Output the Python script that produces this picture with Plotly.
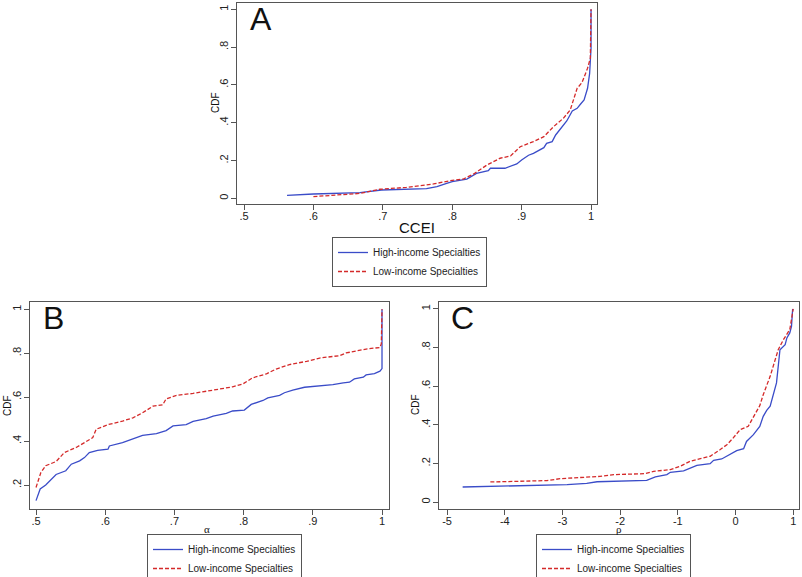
import plotly.graph_objects as go

# ---------------- data ----------------
# Panel A: CCEI
a_high_x = [0.562, 0.600, 0.667, 0.698, 0.763, 0.778, 0.792, 0.800, 0.821, 0.835, 0.852, 0.855, 0.876,
            0.886, 0.893, 0.900, 0.910, 0.917, 0.932, 0.936, 0.944, 0.949, 0.956, 0.965, 0.973, 0.980,
            0.985, 0.990, 0.995, 0.998, 1.000, 1.000]
a_high_y = [0.016, 0.023, 0.030, 0.044, 0.051, 0.062, 0.079, 0.088, 0.102, 0.132, 0.146, 0.159, 0.159,
            0.175, 0.182, 0.203, 0.228, 0.238, 0.268, 0.291, 0.300, 0.335, 0.370, 0.409, 0.462, 0.476,
            0.499, 0.520, 0.582, 0.661, 0.794, 1.000]
a_low_x = [0.600, 0.667, 0.696, 0.734, 0.773, 0.797, 0.816, 0.831, 0.850, 0.869, 0.884, 0.898, 0.917,
           0.932, 0.946, 0.960, 0.970, 0.980, 0.987, 0.995, 0.999, 1.000]
a_low_y = [0.009, 0.026, 0.048, 0.058, 0.076, 0.093, 0.102, 0.129, 0.176, 0.212, 0.224, 0.273, 0.300,
           0.326, 0.379, 0.423, 0.467, 0.582, 0.612, 0.688, 0.741, 1.000]

# Panel B: alpha
b_high_x = [0.500, 0.506, 0.514, 0.522, 0.529, 0.543, 0.551, 0.563, 0.570, 0.577, 0.589, 0.604, 0.606,
            0.625, 0.640, 0.654, 0.674, 0.688, 0.698, 0.717, 0.727, 0.746, 0.756, 0.775, 0.784, 0.801,
            0.811, 0.828, 0.835, 0.852, 0.859, 0.871, 0.888, 0.910, 0.929, 0.944, 0.953, 0.960, 0.973,
            0.977, 0.989, 0.997, 1.000, 1.000]
b_high_y = [0.129, 0.182, 0.200, 0.227, 0.248, 0.265, 0.295, 0.310, 0.325, 0.348, 0.358, 0.363, 0.378,
            0.393, 0.411, 0.426, 0.434, 0.448, 0.469, 0.475, 0.490, 0.502, 0.514, 0.526, 0.537, 0.541,
            0.567, 0.585, 0.597, 0.608, 0.620, 0.632, 0.645, 0.650, 0.657, 0.665, 0.668, 0.683, 0.691,
            0.701, 0.707, 0.718, 0.730, 1.000]
b_low_x = [0.500, 0.502, 0.507, 0.514, 0.529, 0.541, 0.558, 0.570, 0.582, 0.587, 0.604, 0.625, 0.640,
           0.654, 0.669, 0.683, 0.688, 0.703, 0.727, 0.756, 0.784, 0.799, 0.813, 0.833, 0.847, 0.866,
           0.891, 0.910, 0.939, 0.948, 0.968, 0.977, 0.997, 0.999, 1.000]
b_low_y = [0.189, 0.212, 0.257, 0.288, 0.307, 0.348, 0.371, 0.393, 0.416, 0.454, 0.475, 0.491, 0.506,
           0.529, 0.559, 0.565, 0.592, 0.608, 0.617, 0.632, 0.647, 0.660, 0.688, 0.706, 0.728, 0.748,
           0.763, 0.778, 0.789, 0.801, 0.813, 0.819, 0.826, 0.843, 1.000]

# Panel C: rho
c_high_x = [-4.73, -2.92, -2.58, -2.40, -1.54, -1.39, -1.19, -1.13, -0.90, -0.79, -0.67, -0.44, -0.38,
            -0.24, -0.10, 0.02, 0.14, 0.19, 0.31, 0.42, 0.48, 0.54, 0.60, 0.65, 0.71, 0.77, 0.86, 0.89,
            0.94, 0.97, 0.99]
c_high_y = [0.078, 0.090, 0.097, 0.105, 0.112, 0.130, 0.142, 0.154, 0.161, 0.173, 0.190, 0.199, 0.216,
            0.223, 0.244, 0.266, 0.276, 0.314, 0.349, 0.392, 0.444, 0.475, 0.496, 0.556, 0.617, 0.789,
            0.815, 0.850, 0.876, 0.910, 1.000]
c_low_x = [-4.25, -3.27, -3.04, -2.35, -2.11, -1.57, -1.42, -1.13, -0.96, -0.79, -0.61, -0.44, -0.27,
           -0.15, -0.04, 0.08, 0.22, 0.34, 0.42, 0.48, 0.60, 0.74, 0.83, 0.94, 1.00]
c_low_y = [0.104, 0.111, 0.121, 0.133, 0.142, 0.147, 0.159, 0.168, 0.185, 0.211, 0.225, 0.237, 0.271,
           0.297, 0.332, 0.375, 0.392, 0.461, 0.499, 0.556, 0.651, 0.789, 0.841, 0.893, 1.000]

series_names = ["High-income Specialties", "Low-income Specialties"]
a_xticks = [0.5, 0.6, 0.7, 0.8, 0.9, 1.0]
a_xtext = [".5", ".6", ".7", ".8", ".9", "1"]
a_yticks = [0, 0.2, 0.4, 0.6, 0.8, 1.0]
a_ytext = ["0", ".2", ".4", ".6", ".8", "1"]
b_xticks = [0.5, 0.6, 0.7, 0.8, 0.9, 1.0]
b_xtext = [".5", ".6", ".7", ".8", ".9", "1"]
b_yticks = [0.2, 0.4, 0.6, 0.8, 1.0]
b_ytext = [".2", ".4", ".6", ".8", "1"]
c_xticks = [-5, -4, -3, -2, -1, 0, 1]
c_xtext = ["-5", "-4", "-3", "-2", "-1", "0", "1"]
c_yticks = [0, 0.2, 0.4, 0.6, 0.8, 1.0]
c_ytext = ["0", ".2", ".4", ".6", ".8", "1"]

# ---------------- styling ----------------
W, H = 802, 577
BLUE = "#3a4cc8"
RED = "#d42a2a"
AXC = "#555555"
FONT = "Liberation Sans, Arial, sans-serif"

def px(x):
    return x / W

def py(y):
    return 1 - y / H

fig = go.Figure()

panels = [
    ("", a_high_x, a_high_y, a_low_x, a_low_y, "legend"),
    ("2", b_high_x, b_high_y, b_low_x, b_low_y, "legend2"),
    ("3", c_high_x, c_high_y, c_low_x, c_low_y, "legend3"),
]
for suf, hx, hy, lx, ly, leg in panels:
    fig.add_trace(go.Scatter(x=hx, y=hy, mode="lines", name=series_names[0],
                             line=dict(color=BLUE, width=1.3),
                             xaxis="x" + suf, yaxis="y" + suf, legend=leg))
    fig.add_trace(go.Scatter(x=lx, y=ly, mode="lines", name=series_names[1],
                             line=dict(color=RED, width=1.3, dash="4px,2px"),
                             xaxis="x" + suf, yaxis="y" + suf, legend=leg))

def xax(domain, rng, tv, tt, anchor):
    return dict(domain=domain, range=rng, tickvals=tv, ticktext=tt, anchor=anchor,
                automargin=False,
                showline=True, mirror=True, linecolor=AXC, linewidth=1,
                ticks="outside", ticklen=5, tickcolor=AXC, tickwidth=1,
                ticklabelstandoff=-3,
                showgrid=False, zeroline=False,
                tickfont=dict(family=FONT, size=11, color="#222"))

def yax(domain, rng, tv, tt, anchor):
    d = xax(domain, rng, tv, tt, anchor)
    d["tickangle"] = -90
    d["ticklabelstandoff"] = -1
    return d

layout = dict(
    width=W, height=H,
    margin=dict(l=0, r=0, t=0, b=0, autoexpand=False),
    paper_bgcolor="white", plot_bgcolor="white",
    showlegend=True,
    font=dict(family=FONT, color="#222"),
    xaxis=xax([px(237), px(597)], [0.4899, 1.0086], a_xticks, a_xtext, "y"),
    yaxis=yax([py(204), py(3)], [-0.030, 1.033], a_yticks, a_ytext, "x"),
    xaxis2=xax([px(30), px(389)], [0.4913, 1.0101], b_xticks, b_xtext, "y2"),
    yaxis2=yax([py(509), py(302)], [0.091, 1.033], b_yticks, b_ytext, "x2"),
    xaxis3=xax([px(439), px(799)], [-5.14, 1.10], c_xticks, c_xtext, "y3"),
    yaxis3=yax([py(509), py(302)], [-0.036, 1.036], c_yticks, c_ytext, "x3"),
)

def legend_at(x, y):
    return dict(x=px(x), y=py(y), xanchor="left", yanchor="top",
                bordercolor=AXC, borderwidth=1, bgcolor="white",
                font=dict(family=FONT, size=10, color="#222"),
                tracegroupgap=0, itemwidth=30, traceorder="normal")

layout["legend"] = legend_at(332, 237)
layout["legend2"] = legend_at(147, 534)
layout["legend3"] = legend_at(536, 534)

ann = []
def text(x, y, s, size, angle=0, family=FONT):
    ann.append(dict(x=px(x), y=py(y), xref="paper", yref="paper", text=s, showarrow=False,
                    font=dict(family=family, size=size, color="#111"), textangle=angle,
                    xanchor="center", yanchor="middle"))

text(417, 227, "CCEI", 15)
text(215, 103, "CDF", 10, -90)
text(7, 405, "CDF", 10, -90)
text(415, 405, "CDF", 10, -90)
text(207, 529, "α", 11, family="Liberation Serif, serif")
text(619, 529, "ρ", 11, family="Liberation Serif, serif")
text(261, 19, "A", 32)
text(53, 318, "B", 32)
text(463, 318, "C", 32)
layout["annotations"] = ann

fig.update_layout(**layout)
fig.write_html("out.html", config={"displayModeBar": False},
               post_script="document.body.style.margin='0';document.body.style.overflow='hidden';")
